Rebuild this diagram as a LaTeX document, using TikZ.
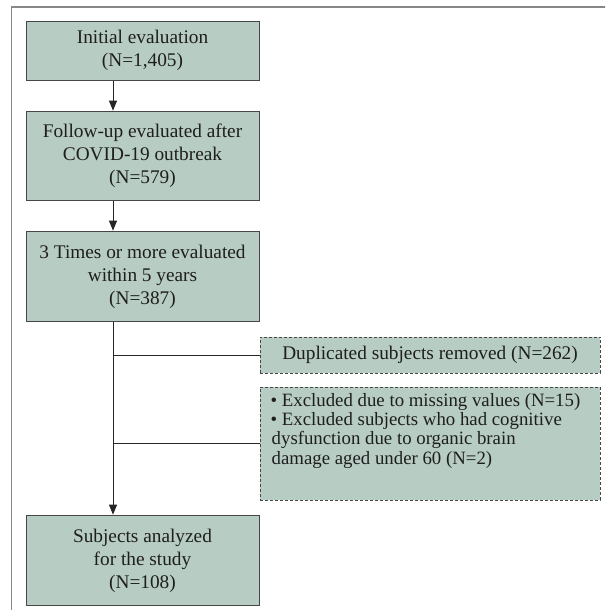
\documentclass[tikz,border=0pt]{standalone}
\usepackage{fontspec}
\setmainfont{Liberation Serif}
\usetikzlibrary{arrows.meta}
\definecolor{boxfill}{RGB}{183,204,195}
\definecolor{boxline}{RGB}{70,70,70}
\definecolor{txt}{RGB}{30,30,30}
\definecolor{framecol}{RGB}{135,135,135}
\tikzset{
  mainbox/.style={draw=boxline, line width=0.9pt, fill=boxfill, text=txt,
    minimum width=233pt, inner sep=0pt, align=center,
    font=\fontsize{19.3}{23}\selectfont},
  exclbox/.style={draw=boxline, line width=0.9pt, fill=boxfill, text=txt,
    dash pattern=on 3pt off 2pt, minimum width=340pt, inner sep=0pt},
  conn/.style={line width=1pt, black!85},
  arr/.style={conn, -{Triangle[width=8pt,length=10pt]}, shorten >=0.6pt},
}
\begin{document}
\begin{tikzpicture}[x=1pt,y=-1pt]
\clip (0,0) rectangle (605,610);
\fill[white] (0,0) rectangle (605,610);
\draw[framecol, line width=1.6pt] (11.5,700) -- (11.5,7.3) -- (700,7.3);

\node[mainbox, minimum height=59.5pt] (b1) at (142.5,50.75)
  {Initial evaluation\\(N=1,405)};
\node[mainbox, minimum height=89pt] (b2) at (142.5,156.2)
  {Follow-up evaluated after\\COVID-19 outbreak\\(N=579)};
\node[mainbox, minimum height=90pt] (b3) at (142.5,276.7)
  {3 Times or more evaluated\\within 5 years\\(N=387)};
\node[exclbox, minimum height=36.5pt, font=\fontsize{19.3}{23}\selectfont] (b4) at (430,355.2)
  {Duplicated subjects removed (N=262)};
\node[exclbox, minimum height=113pt] (b5) at (430,443.5) {};
\node[anchor=north west, inner sep=0pt, text=txt, align=left,
  font=\fontsize{18.8}{19.3}\selectfont] (b5t) at (270.5,393)
  {\textbullet\ Excluded due to missing values (N=15)\\
   \textbullet\ Excluded subjects who had cognitive\\
   \hspace*{1pt}dysfunction due to organic brain\\
   \hspace*{1pt}damage aged under 60 (N=2)};
\node[mainbox, minimum height=90pt] (b6) at (142.5,560.7)
  {Subjects analyzed\\for the study\\(N=108)};

\coordinate (tx) at (113,0);
\coordinate (j1) at (tx |- b4.west);
\coordinate (j2) at (tx |- b5.west);
\draw[arr] (b1.south -| tx) -- (b2.north -| tx);
\draw[arr] (b2.south -| tx) -- (b3.north -| tx);
\draw[arr] (b3.south -| tx) -- (b6.north -| tx);
\draw[conn] (j1) -- (b4.west);
\draw[conn] (j2) -- (b5.west);
\end{tikzpicture}
\end{document}
